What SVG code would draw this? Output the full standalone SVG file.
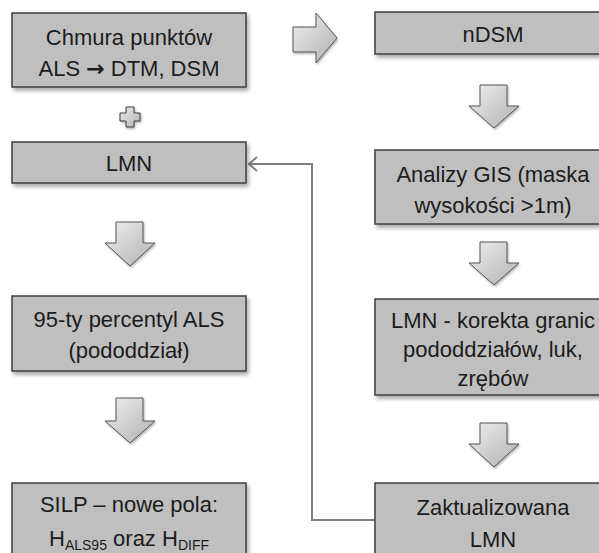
<svg xmlns="http://www.w3.org/2000/svg" width="599" height="553" viewBox="0 0 599 553">
<style>
.box{fill:#bfbfbf;stroke:#3f3f3f;stroke-width:1.5;filter:url(#sh)}
.t{font-family:"Liberation Sans",Arial,sans-serif;font-size:22px;fill:#1c1c1c;text-anchor:middle}
.sub{font-size:14px}
.arr{font-family:"DejaVu Sans",sans-serif;font-weight:bold;font-size:22px}
.blk{fill:url(#g);stroke:#555555;stroke-width:1;filter:url(#sh2)}
.conn{fill:none;stroke:#808080;stroke-width:2}
</style>
<defs>
<filter id="sh" x="-10%" y="-20%" width="130%" height="150%">
<feDropShadow dx="2" dy="3" stdDeviation="2" flood-color="#000" flood-opacity="0.35"/>
</filter>
<filter id="sh2" x="-20%" y="-20%" width="150%" height="150%">
<feDropShadow dx="1" dy="1.5" stdDeviation="1.2" flood-color="#000" flood-opacity="0.3"/>
</filter>
<linearGradient id="g" x1="0" y1="0" x2="1" y2="1">
<stop offset="0" stop-color="#efefef"/>
<stop offset="1" stop-color="#b0b0b0"/>
</linearGradient>
<marker id="ah" markerWidth="14" markerHeight="16" refX="10" refY="8" orient="auto" markerUnits="userSpaceOnUse">
<path d="M2,1 L10,8 L2,15" fill="none" stroke="#808080" stroke-width="2"/>
</marker>
</defs>

<g id="connectors">
<path class="conn" d="M375,520 H312 V164 H249" marker-end="url(#ah)"/>
</g>

<g id="arrow-right">
<path class="blk" d="M293,27 H316 V13 L337,38 L316,63 V52 H293 Z"/>
</g>
<g id="plus">
<path class="blk" d="M126,107 H134 V113 H140 V121 H134 V127 H126 V121 H120 V113 H126 Z" style="stroke:#3a3a3a"/>
</g>
<g id="arrow-down-l1">
<path class="blk" d="M116,222 H143 V243 H155 L130,266 L105,243 H116 Z"/>
</g>
<g id="arrow-down-l2">
<path class="blk" d="M116,398 H143 V421 H155 L130,443 L105,421 H116 Z"/>
</g>
<g id="arrow-down-r1">
<path class="blk" d="M480,85 H507 V106 H519 L494,128 L469,106 H480 Z"/>
</g>
<g id="arrow-down-r2">
<path class="blk" d="M480,242 H507 V263 H519 L494,285 L469,263 H480 Z"/>
</g>
<g id="arrow-down-r3">
<path class="blk" d="M480,423 H507 V444 H519 L494,467 L469,444 H480 Z"/>
</g>

<g id="chmura">
<rect class="box" x="12" y="13" width="234" height="74"/>
<text class="t" x="129" y="45">Chmura punktów</text>
<text class="t" x="129" y="76">ALS <tspan class="arr">→</tspan> DTM, DSM</text>
</g>
<g id="lmn">
<rect class="box" x="12" y="142" width="234" height="41"/>
<text class="t" x="129" y="171">LMN</text>
</g>
<g id="percentyl">
<rect class="box" x="12" y="296" width="234" height="75"/>
<text class="t" x="129" y="327">95-ty percentyl ALS</text>
<text class="t" x="129" y="358">(pododdział)</text>
</g>
<g id="silp">
<rect class="box" x="12" y="483" width="234" height="80"/>
<text class="t" x="129" y="512">SILP – nowe pola:</text>
<text class="t" x="129" y="546">H<tspan class="sub" dy="4">ALS95</tspan><tspan dy="-4"> oraz H</tspan><tspan class="sub" dy="4">DIFF</tspan></text>
</g>

<g id="ndsm">
<rect class="box" x="375" y="12" width="236" height="42"/>
<text class="t" x="493" y="42">nDSM</text>
</g>
<g id="analizy">
<rect class="box" x="375" y="150" width="236" height="74"/>
<text class="t" x="493" y="182">Analizy GIS (maska</text>
<text class="t" x="493" y="213">wysokości &gt;1m)</text>
</g>
<g id="korekta">
<rect class="box" x="375" y="299" width="236" height="96"/>
<text class="t" x="493" y="328">LMN - korekta granic</text>
<text class="t" x="493" y="357">pododdziałów, luk,</text>
<text class="t" x="493" y="386">zrębów</text>
</g>
<g id="zaktualizowana">
<rect class="box" x="375" y="483" width="236" height="80"/>
<text class="t" x="493" y="515">Zaktualizowana</text>
<text class="t" x="493" y="547">LMN</text>
</g>
</svg>
